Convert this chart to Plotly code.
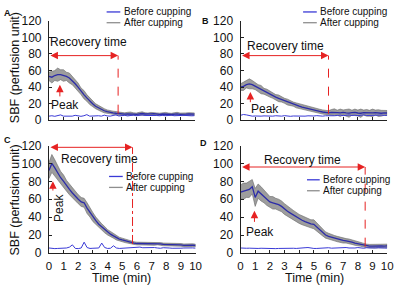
import plotly.graph_objects as go

W, H = 400, 292

# ---------------- data ----------------
time_min = [round(0.2 * i, 1) for i in range(51)]

A_after = [53, 52, 54, 55, 55, 54, 53, 51, 48, 44, 40, 35, 31, 27, 23, 20, 17, 15, 13, 11.5,
           10.5, 9.5, 9, 8.5, 8, 7.8, 7.5, 7.8, 8, 7.5, 7.2, 7.8, 8.2, 7.6, 7.3, 7.7, 8, 7.4, 7.1, 7.6,
           7.9, 7.3, 7, 7.5, 7.8, 7.2, 7, 7.4, 7.6, 7.2, 7.4]
A_spread = [5, 7, 6, 8, 6, 7, 5, 6, 5, 6, 5, 4, 5, 4, 4, 3.5, 3, 3, 2.5, 2.5,
            2, 2, 2, 2, 2, 1.8, 1.5, 1.8, 2, 1.5, 1.5, 1.8, 2, 1.5, 1.5, 1.8, 1.6, 1.5, 1.5, 1.8,
            1.6, 1.5, 1.4, 1.6, 1.8, 1.5, 1.4, 1.5, 1.6, 1.5, 1.5]
A_before = [5, 5.5, 4.8, 5.2, 6.5, 5, 4.8, 5.5, 5, 6, 5.2, 4.8, 5.5, 6.8, 5, 5.2, 6, 5.5, 5, 6.2,
            5.3, 5, 5.8, 6.5, 5.2, 5.5, 6, 5.3, 5.8, 6.2, 5.5, 6, 6.5, 5.8, 6, 5.5, 6.2, 5.8, 5.5, 6,
            5.5, 5.8, 6.2, 5.5, 5.3, 5.8, 6, 5.5, 5.7, 5.4, 5.6]

B_after = [40, 41, 43, 44, 43, 41, 39, 37, 35, 33.5, 31.5, 30, 28, 26.5, 25, 23.5, 22, 20.5, 19.5, 18,
           17, 16, 15, 14, 13, 12, 11.5, 10.8, 10, 9.5, 9, 9.5, 9.8, 9.2, 9, 9.5, 9, 8.6, 9.2, 9.5,
           8.8, 8.5, 9.3, 9, 8.5, 9, 9.3, 8.7, 8.5, 9, 8.8]
B_spread = [4, 5, 4, 6, 5, 4, 4, 5, 3.5, 4, 3.5, 3.5, 3, 4, 3, 3, 3.5, 3, 2.5, 3,
            3, 2.5, 3, 2.5, 2.5, 2.5, 2.5, 2.5, 2.5, 2.5, 2.5, 3.5, 4, 3, 4.5, 3, 4, 5, 3, 4,
            3.5, 5, 3, 4, 3.5, 4.5, 3, 4, 3.5, 3, 3]
B_before = [6, 7, 6.5, 5.5, 5, 5.2, 4.8, 5, 5.3, 5, 4.8, 5, 5.5, 5.2, 5, 5.6, 5, 4.8, 5.2, 5,
            5.5, 5.3, 5, 5.4, 5, 5.2, 5.6, 5.2, 5, 5.5, 5.3, 6, 5.5, 5.8, 6.2, 5.6, 6, 6.4, 5.8, 6.2,
            5.6, 6, 6.5, 5.8, 6, 6.2, 5.7, 6, 6.3, 5.9, 6]

C_after = [92, 100, 95, 89, 84, 80, 75, 71, 67, 63, 60, 57, 56, 50, 45, 40, 36, 32, 29, 26,
           23, 21, 19, 17, 15.5, 14.5, 13.5, 12.5, 11.5, 11, 10.5, 10.5, 10, 10, 10.5, 10, 10, 10.5, 10, 9.5,
           9.5, 9, 9.5, 9, 9, 9, 8.5, 8.8, 8.5, 8.7, 8.3]
C_spread = [9, 10, 9, 8, 7, 7, 6, 6, 6, 5, 5, 5, 5, 6, 5, 5, 4, 4, 3.5, 3.5,
            3, 3, 2.5, 2.5, 2, 2, 2, 1.8, 1.5, 1.5, 1.5, 1.5, 1.5, 1.5, 1.5, 1.5, 1.5, 1.5, 1.5, 1.5,
            1.5, 1.5, 1.5, 1.5, 1.5, 1.5, 1.5, 1.5, 1.5, 1.5, 1.5]
C_before = [5.5, 5, 4.8, 5, 5.2, 4.8, 5.5, 6.5, 9, 5, 4.8, 5.5, 12, 6, 5, 5.2, 5, 5.5, 11, 6,
            5, 5.2, 8, 5.5, 5, 5.2, 5.5, 6, 5.5, 5.8, 6, 6.5, 5.8, 6, 6.2, 5.8, 6, 5.5, 5.2, 5.8,
            6, 5.5, 5.2, 5.5, 5.8, 5.3, 5.5, 5.8, 5.4, 5.6, 5.3]

D_after = [68, 69, 70, 71, 74, 62, 69, 66, 63, 60, 57, 56, 55, 54, 52, 49, 46.5, 44.5, 42.5, 40,
           38, 36.5, 35, 33.5, 32.5, 32, 29, 25.5, 23, 20, 18.5, 17.5, 16.5, 15.5, 14.5, 14, 13.5, 13, 12, 11,
           10.3, 9.5, 8.5, 7.8, 7.5, 7.5, 7.8, 7.5, 7.8, 7.6, 7.8]
D_spread = [8, 9, 8, 9, 8, 10, 8, 8, 7, 7, 6, 7, 6, 6, 6, 6, 5.5, 5.5, 5, 5,
            5, 5, 5, 4.5, 4.5, 5, 4.5, 4, 4, 3.5, 3.5, 3, 3, 3, 3, 3, 2.5, 2.5, 2.5, 2.5,
            2.5, 2, 2, 2, 2, 2, 2, 2, 2, 2, 2]
D_before = [5.5, 5, 5.2, 5.3, 5, 4.8, 5, 5.2, 5, 4.8, 5, 5, 4.8, 5, 5.2, 5, 4.8, 5, 5.2, 5,
            5, 5.2, 5.8, 6, 5.2, 5, 5, 5.3, 5, 5.5, 5.8, 5.3, 5.5, 5.8, 5.2, 5.5, 6, 5.5, 5.2, 5.5,
            6, 5.5, 5.2, 5.8, 5.5, 5.2, 5.5, 5.8, 5.3, 5.5, 5.4]

panel_letters = ["A", "B", "C", "D"]
# recovery time: end (min), arrow level, dashed-line bottom, label x, label y
recovery_end = [4.75, 6.0, 5.7, 8.5]
recovery_level = [78, 78, 118, 96]
recovery_bottom = [8, 8, 10, 7]
recovery_label_x = [2.75, 3.1, 3.45, 4.25]
recovery_label_y = [95, 90, 105, 104]
# peak arrow: x, tail, tip; label x, y
peak_x = [0.75, 0.67, 0.27, 0.95]
peak_tail = [27, 20, 68, 33]
peak_tip = [43, 34, 80, 47]
peak_label_x = [1.07, 1.7, 0.67, 1.33]
peak_label_y = [18, 14, 50, 23.5]

x_ticks = list(range(0, 11))
y_ticks = list(range(0, 121, 20))

# ---------------- layout geometry (pixels) ----------------
def px(x):
    return x / W

def py(y):
    return 1 - y / H

# (x0, x1, ytop, ybottom) in pixels
boxes = [(47, 196, 14.5, 119), (243, 393, 14.5, 119),
         (47, 197, 145.5, 258.3), (243, 393, 145.5, 258.3)]

FONT = "Liberation Sans, Arial, Helvetica, sans-serif"
RED = "#e62222"
BLUE_MEAN = "#2c2ca8"
BLUE_BEFORE = "#3a3ad6"
GRAY = "#8e8e8e"

fig = go.Figure()
series = [(A_after, A_spread, A_before), (B_after, B_spread, B_before),
          (C_after, C_spread, C_before), (D_after, D_spread, D_before)]

layout = dict(width=W, height=H, margin=dict(l=0, r=0, t=0, b=0),
              paper_bgcolor="white", plot_bgcolor="white", showlegend=False,
              font=dict(family=FONT, color="#111"))
annotations = []
shapes = []

for k, (after, spread, before) in enumerate(series):
    xa = "x" if k == 0 else f"x{k+1}"
    ya = "y" if k == 0 else f"y{k+1}"
    upper = [m + s for m, s in zip(after, spread)]
    lower = [m - s for m, s in zip(after, spread)]
    fig.add_trace(go.Scatter(x=time_min + time_min[::-1], y=upper + lower[::-1],
                             fill="toself", fillcolor="rgba(140,140,140,0.85)",
                             line=dict(color="#6a6a6a", width=0.6), mode="lines",
                             xaxis=xa, yaxis=ya, hoverinfo="skip"))
    fig.add_trace(go.Scatter(x=time_min, y=before, mode="lines",
                             line=dict(color=BLUE_BEFORE, width=1), xaxis=xa, yaxis=ya))
    fig.add_trace(go.Scatter(x=time_min, y=after, mode="lines",
                             line=dict(color=BLUE_MEAN, width=1.3), xaxis=xa, yaxis=ya))

    x0, x1, yt, yb = boxes[k]
    xkey = "xaxis" if k == 0 else f"xaxis{k+1}"
    ykey = "yaxis" if k == 0 else f"yaxis{k+1}"
    layout[xkey] = dict(domain=[px(x0), px(x1)], anchor=ya, range=[0, 10],
                        tickmode="array", tickvals=x_ticks, ticktext=[str(v) for v in x_ticks],
                        ticks="inside", ticklen=3, tickcolor="#222", showline=True,
                        linecolor="#222", linewidth=1, showgrid=False, zeroline=False,
                        showticklabels=(k >= 2), ticklabelstandoff=2,
                        tickfont=dict(family=FONT, size=11.5, color="#111"))
    layout[ykey] = dict(domain=[py(yb), py(yt)], anchor=xa, range=[0, 120],
                        tickmode="array", tickvals=y_ticks,
                        ticks="inside", ticklen=3, tickcolor="#222", showline=True,
                        linecolor="#222", linewidth=1, showgrid=False, zeroline=False,
                        ticklabelstandoff=4,
                        tickfont=dict(family=FONT, size=12, color="#111"))

    # recovery time double arrow
    annotations.append(dict(x=recovery_end[k], y=recovery_level[k], ax=0, ay=recovery_level[k],
                            xref=xa, yref=ya, axref=xa, ayref=ya, text="", showarrow=True,
                            arrowhead=2, startarrowhead=2, arrowside="end+start",
                            arrowsize=1.5, startarrowsize=1.5, arrowwidth=1, arrowcolor=RED,
                            standoff=0, startstandoff=0))
    shapes.append(dict(type="line", xref=xa, yref=ya, x0=recovery_end[k], x1=recovery_end[k],
                       y0=recovery_bottom[k], y1=recovery_level[k],
                       line=dict(color=RED, width=1, dash="dashdot" if k == 2 else "dash")))
    annotations.append(dict(x=recovery_label_x[k], y=recovery_label_y[k], xref=xa, yref=ya,
                            text="Recovery time", showarrow=False,
                            xanchor="center", yanchor="middle",
                            font=dict(family=FONT, size=12, color="#111")))
    # peak arrow
    annotations.append(dict(x=peak_x[k], y=peak_tip[k], ax=peak_x[k], ay=peak_tail[k],
                            xref=xa, yref=ya, axref=xa, ayref=ya, text="", showarrow=True,
                            arrowhead=2, arrowsize=1.5, arrowwidth=1, arrowcolor=RED, standoff=0))
    annotations.append(dict(x=peak_label_x[k], y=peak_label_y[k], xref=xa, yref=ya,
                            text="Peak", showarrow=False, textangle=-90 if k == 2 else 0,
                            xanchor="center", yanchor="middle",
                            font=dict(family=FONT, size=12, color="#111")))

# panel letters
letter_pos = [(5, 6), (207, 14.5), (4.5, 140), (205.5, 143)]
for letter, (lx, ly) in zip(panel_letters, letter_pos):
    annotations.append(dict(x=px(lx), y=py(ly), xref="paper", yref="paper", text=f"<b>{letter}</b>",
                            showarrow=False, xanchor="center", yanchor="middle",
                            font=dict(family=FONT, size=9, color="#111")))

# manual legends: line x0, x1, text x, y1, y2
legend_pos = [(106, 120, 122, 5.2, 16.5), (307, 321, 322.5, 5.2, 16.5),
              (108.5, 122.5, 124, 178, 189.5), (311, 324, 325.5, 181.5, 193)]
for (lx0, lx1, tx, y1, y2) in legend_pos:
    shapes.append(dict(type="line", xref="paper", yref="paper", x0=px(lx0), x1=px(lx1),
                       y0=py(y1), y1=py(y1), line=dict(color=BLUE_BEFORE, width=1.3)))
    shapes.append(dict(type="line", xref="paper", yref="paper", x0=px(lx0), x1=px(lx1),
                       y0=py(y2), y1=py(y2), line=dict(color=GRAY, width=1.3)))
    annotations.append(dict(x=px(tx), y=py(y1), xref="paper", yref="paper", text="Before cupping",
                            showarrow=False, xanchor="left", yanchor="middle",
                            font=dict(family=FONT, size=10, color="#111")))
    annotations.append(dict(x=px(tx), y=py(y2), xref="paper", yref="paper", text="After cupping",
                            showarrow=False, xanchor="left", yanchor="middle",
                            font=dict(family=FONT, size=10, color="#111")))

# axis titles
for (cx, cy) in [(12.5, 64), (12.5, 203)]:
    annotations.append(dict(x=px(cx), y=py(cy), xref="paper", yref="paper",
                            text="SBF (perfusion unit)", textangle=-90, showarrow=False,
                            xanchor="center", yanchor="middle",
                            font=dict(family=FONT, size=12.5, color="#111")))
for (cx, cy) in [(121.7, 284.5), (318.3, 284.5)]:
    annotations.append(dict(x=px(cx), y=py(cy), xref="paper", yref="paper",
                            text="Time (min)", showarrow=False,
                            xanchor="center", yanchor="middle",
                            font=dict(family=FONT, size=12.5, color="#111")))

layout["annotations"] = annotations
layout["shapes"] = shapes
fig.update_layout(**layout)
fig.write_html("out.html", config={"displayModeBar": False},
               post_script="document.body.style.margin='0';document.body.style.padding='0';")
